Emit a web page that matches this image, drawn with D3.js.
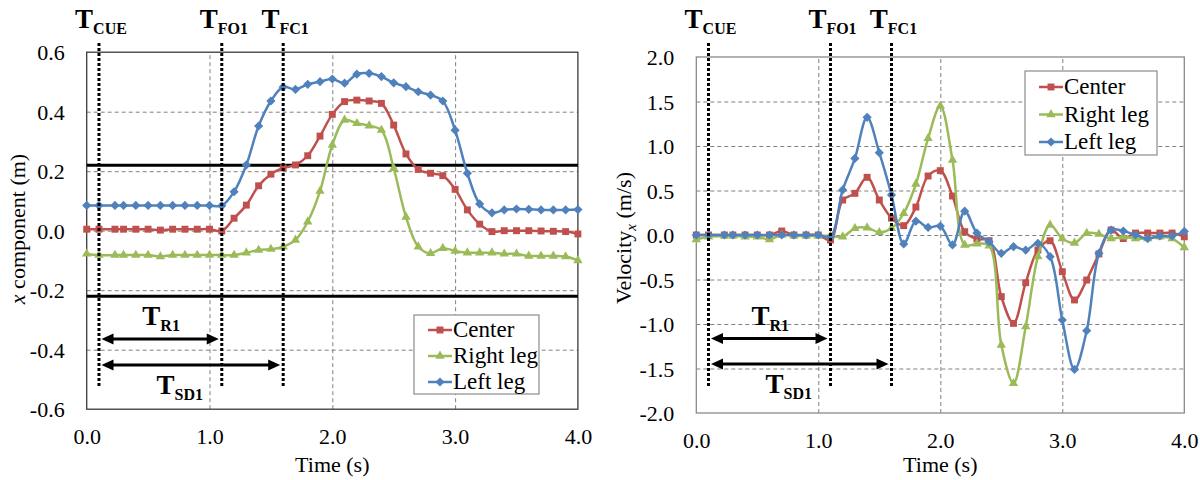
<!DOCTYPE html>
<html><head><meta charset="utf-8">
<script src="https://cdn.jsdelivr.net/npm/d3@7"></script>
<style>body{margin:0;background:#fff}svg{display:block}text{font-family:"Liberation Serif","Times New Roman",Times,serif;fill:#000}</style>
</head><body><svg id="c" width="1200" height="480"></svg>
<script>
// ---------- data ----------
const times = [0, 0.1, 0.23, 0.3, 0.4, 0.5, 0.6, 0.7, 0.8, 0.9, 1.0, 1.1, 1.2, 1.3, 1.4, 1.5, 1.6, 1.7, 1.8, 1.9, 2.0,
  2.1, 2.2, 2.3, 2.4, 2.5, 2.6, 2.7, 2.8, 2.9, 3.0, 3.1, 3.2, 3.3, 3.4, 3.5, 3.6, 3.7, 3.8, 3.9, 4.0];
const seriesNames = ["Center", "Right leg", "Left leg"];
// x component (m)
const posCenter = [0.005, 0.005, 0.005, 0.005, 0.005, 0.005, 0.002, 0.005, 0.005, 0.005, 0.005, -0.001,
  0.042, 0.086, 0.151, 0.19, 0.211, 0.221, 0.252, 0.318, 0.391, 0.434, 0.439, 0.436, 0.428, 0.355, 0.258,
  0.206, 0.193, 0.185, 0.139, 0.07, 0.022, -0.003, 0.0, 0.0, 0.0, -0.001, -0.002, -0.003, -0.011];
const posRight = [-0.078, -0.082, -0.082, -0.082, -0.082, -0.082, -0.087, -0.082, -0.082, -0.082, -0.082, -0.082,
  -0.082, -0.074, -0.065, -0.062, -0.054, -0.031, 0.03, 0.133, 0.288, 0.372, 0.361, 0.353, 0.338, 0.21, 0.046,
  -0.054, -0.076, -0.059, -0.068, -0.074, -0.074, -0.074, -0.078, -0.078, -0.085, -0.085, -0.085, -0.087, -0.1];
const posLeft = [0.085, 0.085, 0.085, 0.085, 0.085, 0.085, 0.085, 0.085, 0.085, 0.085, 0.085, 0.084,
  0.131, 0.221, 0.352, 0.436, 0.483, 0.475, 0.492, 0.501, 0.51, 0.496, 0.526, 0.529, 0.518, 0.497, 0.484,
  0.467, 0.456, 0.436, 0.338, 0.193, 0.09, 0.06, 0.07, 0.073, 0.072, 0.07, 0.07, 0.07, 0.071];
// Velocity_x (m/s)
const velCenter = [0, 0, 0, 0, 0, 0, 0, 0.045, 0, 0, 0, -0.056,
  0.393, 0.468, 0.648, 0.393, 0.19, 0.105, 0.314, 0.663, 0.723, 0.438, 0.037, -0.045, -0.064, -0.693, -0.993,
  -0.536, -0.169, -0.065, -0.412, -0.73, -0.506, -0.213, 0.056, -0.04, 0.022, 0.022, 0.022, 0.022, -0.02];
const velRight = [-0.05, -0.02, -0.01, -0.01, -0.02, -0.02, -0.05, 0.0, -0.01, -0.01, -0.01, -0.01,
  -0.02, 0.075, 0.082, 0.03, 0.075, 0.244, 0.573, 1.086, 1.45, 0.843, -0.112, -0.1, -0.12, -1.236, -1.667,
  -1.03, -0.243, 0.112, -0.04, -0.09, 0.02, 0.01, -0.04, -0.02, -0.04, -0.04, -0.02, -0.04, -0.14];
const velLeft = [0, 0, 0, 0, 0, 0, 0, 0, 0, 0, 0, -0.02,
  0.506, 0.86, 1.322, 0.925, 0.45, -0.1, 0.155, 0.085, 0.1, -0.112, 0.268, 0.022, -0.075, -0.206, -0.131,
  -0.169, -0.094, -0.243, -0.955, -1.51, -1.075, -0.206, 0.056, 0.045, 0.0, -0.04, -0.01, -0.01, 0.04];
const xTicks = [0, 1, 2, 3, 4];
const posTicks = [-0.6, -0.4, -0.2, 0, 0.2, 0.4, 0.6];
const velTicks = [-2.0, -1.5, -1.0, -0.5, 0, 0.5, 1.0, 1.5, 2.0];
const thresholds = [0.22, -0.22];
const eventTimes = [0.1, 1.1, 1.6];
const eventSubs = ["CUE", "FO1", "FC1"];
const intervalSubs = ["R1", "SD1"];

// ---------- drawing ----------
const colors = ["#C0504D", "#9BBB59", "#4F81BD"];
const svg = d3.select("#c");
svg.append("rect").attr("width", 1200).attr("height", 480).attr("fill", "#fff");

function markerPath(kind) {
  if (kind === 0) return d3.symbol(d3.symbolSquare, 48)();
  if (kind === 1) return d3.symbol(d3.symbolTriangle, 38)();
  return "M0,-4.6L4.6,0L0,4.6L-4.6,0Z";
}

function chart(cfg) {
  const x = d3.scaleLinear().domain([0, 4]).range([cfg.left, cfg.right]);
  const y = d3.scaleLinear().domain(cfg.yDomain).range([cfg.bottom, cfg.top]);
  const g = svg.append("g");

  // gridlines
  g.append("g").attr("transform", `translate(0,${cfg.bottom})`)
    .call(d3.axisBottom(x).tickValues(xTicks.slice(1, -1)).tickSize(-(cfg.bottom - cfg.top)).tickFormat(""))
    .call(a => a.select(".domain").remove())
    .call(a => a.selectAll("line").attr("stroke", "#808080").attr("stroke-dasharray", "4,3"));
  g.append("g").attr("transform", `translate(${cfg.left},0)`)
    .call(d3.axisLeft(y).tickValues(cfg.yTicks.slice(1, -1)).tickSize(-(cfg.right - cfg.left)).tickFormat(""))
    .call(a => a.select(".domain").remove())
    .call(a => a.selectAll("line").attr("stroke", "#808080").attr("stroke-dasharray", "4,3"));

  // tick labels
  g.append("g").attr("transform", `translate(0,${cfg.bottom})`)
    .call(d3.axisBottom(x).tickValues(xTicks).tickSize(0).tickPadding(0).tickFormat(d => d.toFixed(1)))
    .call(a => a.select(".domain").remove())
    .call(a => a.selectAll("text").attr("font-size", 22).attr("fill", "#000").attr("dy", null).attr("y", 35));
  g.append("g").attr("transform", `translate(${cfg.left},0)`)
    .call(d3.axisLeft(y).tickValues(cfg.yTicks).tickSize(0).tickPadding(22).tickFormat(d => d.toFixed(1)))
    .call(a => a.select(".domain").remove())
    .call(a => a.selectAll("text").attr("font-size", 22).attr("fill", "#000").attr("dy", "0.35em"));

  // plot border
  g.append("rect").attr("x", cfg.left).attr("y", cfg.top).attr("width", cfg.right - cfg.left)
    .attr("height", cfg.bottom - cfg.top).attr("fill", "none").attr("stroke", cfg.border).attr("stroke-width", 1.3);

  // threshold lines
  (cfg.thresholds || []).forEach(v => {
    g.append("line").attr("x1", cfg.left).attr("x2", cfg.right).attr("y1", y(v)).attr("y2", y(v))
      .attr("stroke", "#000").attr("stroke-width", 3);
  });

  // series
  cfg.series.forEach((vals, i) => {
    const pts = times.map((t, k) => [t, vals[k]]);
    g.append("path").datum(pts)
      .attr("d", d3.line().x(d => x(d[0])).y(d => y(d[1])).curve(d3.curveCatmullRom.alpha(0.5)))
      .attr("fill", "none").attr("stroke", colors[i]).attr("stroke-width", 2.5);
    g.append("g").selectAll("path").data(pts).join("path")
      .attr("d", markerPath(i)).attr("transform", d => `translate(${x(d[0])},${y(d[1])})`)
      .attr("fill", colors[i]);
  });

  // event lines
  eventTimes.forEach((t, i) => {
    g.append("line").attr("x1", x(t)).attr("x2", x(t)).attr("y1", 43).attr("y2", 387)
      .attr("stroke", "#000").attr("stroke-width", 3).attr("stroke-dasharray", "3,2");
    const tx = g.append("text").attr("x", x(t) + 2).attr("y", 28).attr("text-anchor", "middle")
      .attr("font-weight", "bold");
    tx.append("tspan").attr("font-size", 27).text("T");
    tx.append("tspan").attr("font-size", 16).attr("dy", 6).text(eventSubs[i]);
  });

  // interval arrows
  const arrows = [[eventTimes[0], eventTimes[1], cfg.arrowY[0]], [eventTimes[0], eventTimes[2], cfg.arrowY[1]]];
  arrows.forEach(([ta, tb, ay], i) => {
    const xa = x(ta) + 2.5, xb = x(tb) - 3;
    g.append("line").attr("x1", xa + 8).attr("x2", xb - 8).attr("y1", ay).attr("y2", ay)
      .attr("stroke", "#000").attr("stroke-width", 3);
    g.append("path").attr("d", `M${xa},${ay}L${xa + 12},${ay - 5.5}L${xa + 12},${ay + 5.5}Z`).attr("fill", "#000");
    g.append("path").attr("d", `M${xb},${ay}L${xb - 12},${ay - 5.5}L${xb - 12},${ay + 5.5}Z`).attr("fill", "#000");
    const cx = (xa + xb) / 2 + (i === 0 ? 1 : -11);
    const ly = i === 0 ? ay - 14 : ay + 29;
    const tx = g.append("text").attr("x", cx).attr("y", ly).attr("text-anchor", "middle").attr("font-weight", "bold");
    tx.append("tspan").attr("font-size", 27).text("T");
    tx.append("tspan").attr("font-size", 16).attr("dy", 6).text(intervalSubs[i]);
  });

  // legend
  const L = cfg.legend;
  g.append("rect").attr("x", L.x).attr("y", L.y).attr("width", L.w).attr("height", L.h)
    .attr("fill", "#fff").attr("stroke", "#8c8c8c").attr("stroke-width", 1.2);
  seriesNames.forEach((name, i) => {
    const by = L.y + L.first + i * L.step;
    const my = by - 7;
    g.append("line").attr("x1", L.x + 14).attr("x2", L.x + 38).attr("y1", my).attr("y2", my)
      .attr("stroke", colors[i]).attr("stroke-width", 2.5);
    g.append("path").attr("d", markerPath(i)).attr("transform", `translate(${L.x + 26},${my})`).attr("fill", colors[i]);
    g.append("text").attr("x", L.x + 39).attr("y", by).attr("font-size", 23).text(name);
  });

  // axis titles
  g.append("text").attr("x", (cfg.left + cfg.right) / 2).attr("y", 472).attr("text-anchor", "middle")
    .attr("font-size", 22).text("Time (s)");
  const yt = g.append("text").attr("transform", `translate(${cfg.yTitleX},${cfg.yTitleY}) rotate(-90)`)
    .attr("text-anchor", "middle").attr("font-size", 22);
  cfg.yTitle(yt);
}

chart({
  left: 86.7, right: 577.9, top: 52.2, bottom: 409.2, yDomain: [-0.6, 0.6], yTicks: posTicks,
  series: [posCenter, posRight, posLeft], border: "#3a3a3a", thresholds: thresholds,
  arrowY: [339, 365],
  legend: { x: 414, y: 315, w: 125, h: 79, first: 22, step: 26 },
  yTitleX: 25, yTitleY: 229,
  yTitle: t => { t.append("tspan").attr("font-style", "italic").text("x"); t.append("tspan").text(" component (m)"); }
});
chart({
  left: 696.3, right: 1184.3, top: 57, bottom: 413, yDomain: [-2, 2], yTicks: velTicks,
  series: [velCenter, velRight, velLeft], border: "#8a8a8a",
  arrowY: [338.5, 364],
  legend: { x: 1025, y: 71, w: 132, h: 84, first: 23, step: 27.5 },
  yTitleX: 631, yTitleY: 238,
  yTitle: t => {
    t.append("tspan").text("Velocity");
    t.append("tspan").attr("font-style", "italic").attr("font-size", 15).attr("dy", 5).text("x");
    t.append("tspan").attr("dy", -5).text(" (m/s)");
  }
});
</script></body></html>
